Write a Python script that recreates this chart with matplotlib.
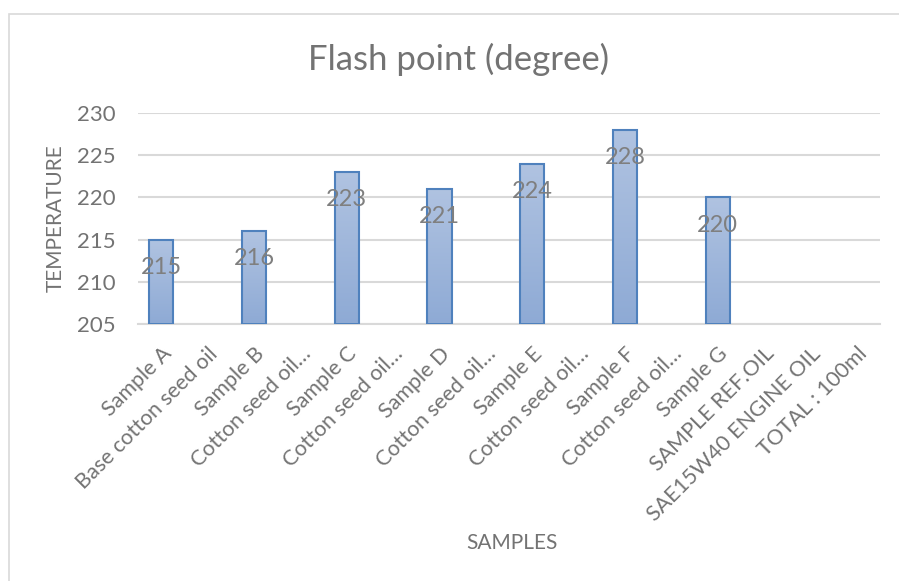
import matplotlib.pyplot as plt
import numpy as np
from matplotlib.patches import Rectangle
from matplotlib.colors import LinearSegmentedColormap

# categories as they appear on the x axis
categories = [
    'Sample A', 'Base cotton seed oil', 'Sample B', 'Cotton seed oil…',
    'Sample C', 'Cotton seed oil…', 'Sample D', 'Cotton seed oil…',
    'Sample E', 'Cotton seed oil…', 'Sample F', 'Cotton seed oil…',
    'Sample G', 'SAMPLE REF.OIL', 'SAE15W40 ENGINE OIL', 'TOTAL : 100ml',
]
# flash point values (None = no bar)
flash_point = [215, None, 216, None, 223, None, 221, None,
               224, None, 228, None, 220, None, None, None]
y_ticks = [205, 210, 215, 220, 225, 230]

plt.rcParams['font.family'] = ['Lato', 'DejaVu Sans']
text_col = '#737373'
grid_col = '#d9d9d9'

fig = plt.figure(figsize=(8.99, 5.81), dpi=100)
ax = fig.add_axes([0.1535, 0.4423, 0.8255, 0.3632])

# chart area border
fig.patches.append(Rectangle((0.010, -0.1), 1.2, 1.076, transform=fig.transFigure,
                             fill=False, edgecolor=grid_col, linewidth=1.2))

x = np.arange(len(categories))
vals = np.array([v if v is not None else np.nan for v in flash_point], dtype=float)
mask = ~np.isnan(vals)
base = y_ticks[0]
bars = ax.bar(x[mask], vals[mask] - base, bottom=base, width=0.52,
              color='none', edgecolor='#4f81bd', linewidth=1.5, zorder=3)

# vertical gradient fill, like the Excel style
grad = np.linspace(0, 1, 256).reshape(-1, 1)
cmap = LinearSegmentedColormap.from_list('g', ['#8eaad5', '#b0c3e1'])
for b in bars:
    x0, y0 = b.get_x(), b.get_y()
    im = ax.imshow(grad, extent=(x0, x0 + b.get_width(), y0, y0 + b.get_height()),
                   origin='lower', cmap=cmap, aspect='auto', zorder=2)
    im.set_clip_path(b)

for xi, v in zip(x[mask], vals[mask]):
    ax.annotate(f'{v:.0f}', xy=(xi, v), xytext=(0, -20), textcoords='offset points',
                ha='center', va='center', fontsize=17, color='#7f7f7f', zorder=4)

ax.set_xlim(-0.5, len(categories) - 0.5)
ax.set_ylim(y_ticks[0], y_ticks[-1])
ax.set_yticks(y_ticks)
ax.set_xticks(x)
ax.set_xticklabels(categories, rotation=45, ha='right', rotation_mode='anchor')
ax.tick_params(axis='y', length=0, labelsize=16, colors=text_col, pad=16)
ax.tick_params(axis='x', length=0, labelsize=15.5, colors=text_col, pad=14)
ax.grid(True, axis='y', color=grid_col, linewidth=1.5, zorder=0)
ax.set_axisbelow(True)
for s in ['top', 'right', 'left']:
    ax.spines[s].set_visible(False)
ax.spines['bottom'].set_color(grid_col)
ax.spines['bottom'].set_linewidth(1.5)

ax.set_ylabel('TEMPERATURE', fontsize=15, color=text_col, labelpad=8)
fig.text(0.57, 0.065, 'SAMPLES', fontsize=15, color=text_col, ha='center', va='center')
fig.text(0.51, 0.897, 'Flash point (degree)', fontsize=25, color=text_col,
         ha='center', va='center')

fig.savefig('out.png', dpi=100, facecolor='white')
